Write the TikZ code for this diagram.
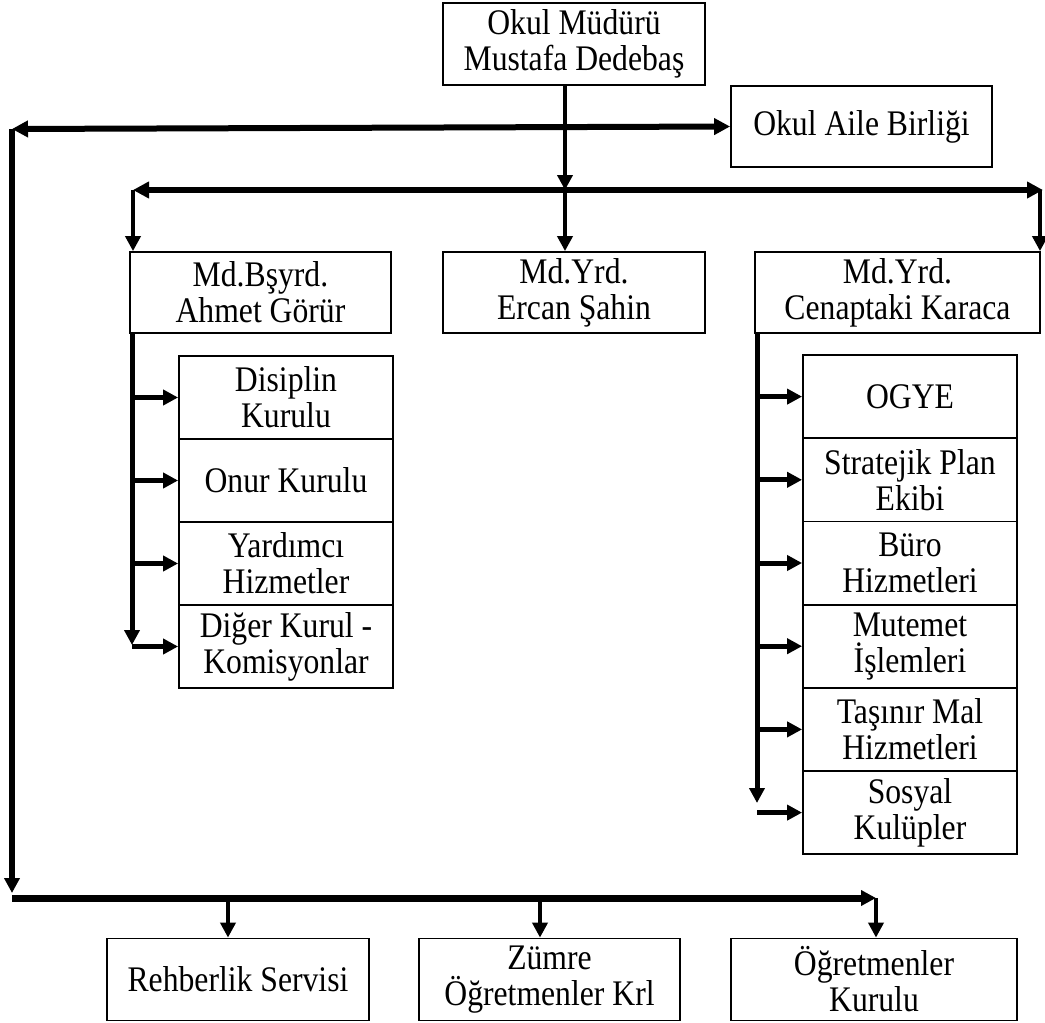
\documentclass[tikz,border=0pt]{standalone}
\usepackage{fontspec}
\setmainfont{Liberation Serif}[FakeStretch=0.88]
\usetikzlibrary{arrows.meta}
\tikzset{
  box/.style={draw, line width=1.8pt, inner sep=0pt, align=center,
    font=\fontsize{36}{36}\selectfont},
  tip/.style={-{Triangle[length=15pt,width=15pt]}},
  tips/.style={{Triangle[length=16pt,width=16pt]}-{Triangle[length=16pt,width=16pt]}},
  bus/.style={line width=6pt},
  drop/.style={line width=4.5pt, tip},
  sub/.style={line width=5pt},
}
\begin{document}
\begin{tikzpicture}[x=1pt,y=-1pt]
\useasboundingbox (0,0) rectangle (1045,1023);
% nodes
\node[box, minimum width=262pt, minimum height=82pt] (mudur) at (574,44) {Okul Müdürü\\Mustafa Dedebaş};
\node[box, minimum width=261pt, minimum height=81pt] (aile) at (861.5,126.5) {Okul Aile Birliği};
\node[box, minimum width=261pt, minimum height=81pt] (bsyrd) at (260.5,292.5) {Md.Bşyrd.\\Ahmet Görür};
\node[box, minimum width=262pt, minimum height=81pt] (ercan) at (574,292.5) {Md.Yrd.\\Ercan Şahin};
\node[box, minimum width=285pt, minimum height=81pt] (cenap) at (897.5,292.5) {Md.Yrd.\\Cenaptaki Karaca};
% left sub boxes
\node[box, minimum width=214pt, minimum height=83pt] (l1) at (286,397.5) {Disiplin\\Kurulu};
\node[box, minimum width=214pt, minimum height=83pt] (l2) at (286,480.5) {Onur Kurulu};
\node[box, minimum width=214pt, minimum height=83pt] (l3) at (286,563.5) {Yardımcı\\Hizmetler};
\node[box, minimum width=214pt, minimum height=83pt] (l4) at (286,646.5) {Diğer Kurul -\\Komisyonlar};
% right sub boxes
\node[box, minimum width=214pt, minimum height=83.2pt] (r1) at (910,396.6) {OGYE};
\node[box, minimum width=214pt, minimum height=83.2pt] (r2) at (910,479.8) {Stratejik Plan\\Ekibi};
\node[box, minimum width=214pt, minimum height=83.2pt] (r3) at (910,563.0) {Büro\\Hizmetleri};
\node[box, minimum width=214pt, minimum height=83.2pt] (r4) at (910,646.2) {Mutemet\\İşlemleri};
\node[box, minimum width=214pt, minimum height=83.2pt] (r5) at (910,729.4) {Taşınır Mal\\Hizmetleri};
\node[box, minimum width=214pt, minimum height=83.2pt] (r6) at (910,812.6) {Sosyal\\Kulüpler};
% bottom
\node[box, minimum width=262pt, minimum height=82pt] (rehber) at (238,979.5) {Rehberlik Servisi};
\node[box, minimum width=261pt, minimum height=82pt] (zumre) at (549.5,979.5) {Zümre\\Öğretmenler Krl};
\node[box, minimum width=286pt, minimum height=82pt] (ogret) at (874,979.5) {Öğretmenler\\Kurulu};
% coordinates
\coordinate (tr) at (565,190);
\coordinate (b1L) at (12,129);
\coordinate (b2L) at (133,190);
\coordinate (b2R) at (1043,190);
\coordinate (dR) at (1040,190);
\coordinate (vEnd) at (12,893);
\coordinate (b3L) at (12,898);
\coordinate (b3R) at (876,898);
\coordinate (d1) at (228,898);
\coordinate (d2) at (540,898);
\coordinate (sl) at (132,645);
\coordinate (sr) at (757,803);
% top connectors
\draw[drop] (tr |- mudur.south) -- (tr);
\draw[bus, tips] (b1L) -- (aile.west);
\draw[line width=5.5pt, tip] (b1L) -- (vEnd);
\draw[bus, tips] (b2L) -- (b2R);
\draw[drop] (b2L) -- (b2L |- bsyrd.north);
\draw[drop] (tr) -- (tr |- ercan.north);
\draw[drop] (dR) -- (dR |- cenap.north);
% left sub bus
\draw[sub, tip] (sl |- bsyrd.south) -- (sl);
\foreach \n in {l1,l2,l3,l4} \draw[sub, tip] (sl |- \n.west) -- (\n.west);
% right sub bus
\draw[sub, tip] (sr |- cenap.south) -- (sr);
\foreach \n in {r1,r2,r3,r4,r5,r6} \draw[sub, tip] (sr |- \n.west) -- (\n.west);
% bottom bus
\draw[line width=7pt, tip] (b3L) -- (b3R);
\draw[drop] (d1) -- (d1 |- rehber.north);
\draw[drop] (d2) -- (d2 |- zumre.north);
\draw[drop] (b3R) -- (b3R |- ogret.north);
\end{tikzpicture}
\end{document}
